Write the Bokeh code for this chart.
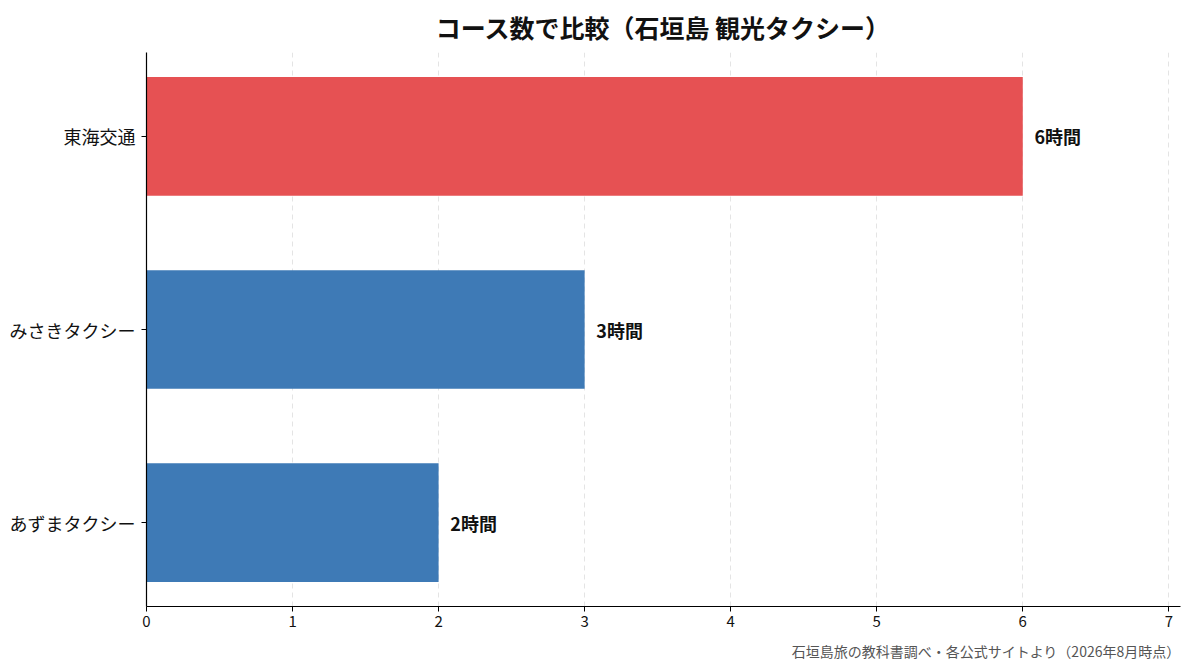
from bokeh.plotting import figure
from bokeh.models import Range1d, Title, ColumnDataSource, FixedTicker
from bokeh.core.properties import value
from bokeh.embed import file_html
from bokeh.resources import INLINE

companies = ["あずまタクシー", "みさきタクシー", "東海交通"]
hours = [2, 3, 6]
bar_colors = ["#3E7AB6", "#3E7AB6", "#E65153"]
value_labels = ["2時間", "3時間", "6時間"]
x_ticks = [0, 1, 2, 3, 4, 5, 6, 7]

title_text = "コース数で比較（石垣島 観光タクシー）"
footer_text = "石垣島旅の教科書調べ・各公式サイトより（2026年8月時点）"

FONT = "Noto Sans CJK JP"

ypos = list(range(len(companies)))
src = ColumnDataSource(dict(
    y=ypos,
    hours=hours,
    color=bar_colors,
    label=value_labels,
    label_x=[h + 0.08 for h in hours],
))

p = figure(
    width=1190, height=670,
    y_range=Range1d(-0.435, len(companies) - 1 + 0.435),
    x_range=Range1d(0, 7.08),
    output_backend="svg", toolbar_location=None,
    min_border_left=146, min_border_right=10, min_border_top=52, min_border_bottom=10,
)

p.hbar(y="y", right="hours", left=0, height=0.615, color="color", source=src, line_width=0)
p.text(x="label_x", y="y", text="label", source=src,
       text_font=value(FONT), text_font_size="18px", text_font_style="bold",
       text_baseline="middle", text_align="left", text_color="#111111")

p.title.visible = False
p.add_layout(Title(text=title_text, text_font=FONT, text_font_size="25px", text_font_style="bold",
                   align="center", text_color="#111111", standoff=12, vertical_align="top",
                   text_line_height=1.0), "above")
p.add_layout(Title(text=footer_text, text_font=FONT, text_font_size="14px", text_font_style="normal",
                   align="right", text_color="#555555", standoff=19), "below")

p.outline_line_color = None
p.background_fill_color = "white"
p.border_fill_color = "white"

p.ygrid.grid_line_color = None
p.xgrid.grid_line_color = "#dddddd"
p.xgrid.grid_line_dash = "5 4"
p.xgrid.grid_line_width = 0.8
p.xgrid.ticker = FixedTicker(ticks=x_ticks)

p.xaxis.ticker = FixedTicker(ticks=x_ticks)
p.xaxis.minor_tick_line_color = None
p.xaxis.major_tick_in = 0
p.xaxis.major_tick_out = 5
p.xaxis.axis_line_color = "black"
p.xaxis.axis_line_width = 1.2
p.xaxis.major_label_text_font = FONT
p.xaxis.major_label_text_font_size = "15px"
p.xaxis.major_label_text_color = "#111111"
p.xaxis.major_label_standoff = 4

p.yaxis.ticker = FixedTicker(ticks=ypos)
p.yaxis.major_label_overrides = {i: c for i, c in zip(ypos, companies)}
p.yaxis.minor_tick_line_color = None
p.yaxis.major_tick_in = 0
p.yaxis.major_tick_out = 5
p.yaxis.axis_line_color = "black"
p.yaxis.axis_line_width = 1.2
p.yaxis.major_label_text_font = FONT
p.yaxis.major_label_text_font_size = "18px"
p.yaxis.major_label_text_color = "#111111"
p.yaxis.major_label_standoff = 6

open("out.html", "w").write(file_html(p, INLINE))
